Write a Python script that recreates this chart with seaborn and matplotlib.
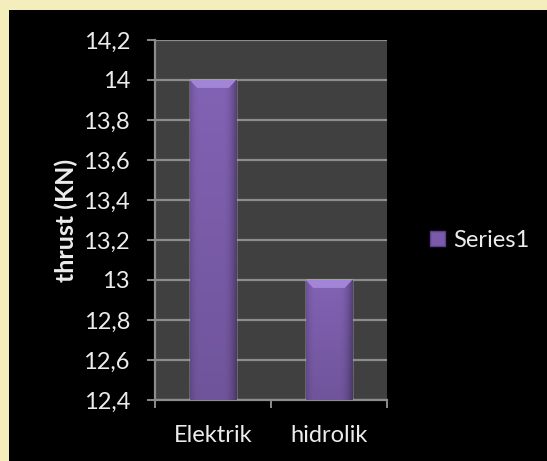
import matplotlib
matplotlib.use("Agg")
import matplotlib.pyplot as plt
import matplotlib.patches as mpatches
import matplotlib.colors as mcolors
from matplotlib.ticker import FuncFormatter, MultipleLocator, FixedLocator
import numpy as np
import seaborn as sns

categories = ["Elektrik", "hidrolik"]
values = [14.0, 13.0]
series_name = "Series1"
y_label = "thrust (KN)"
y_min, y_max, y_step = 12.4, 14.2, 0.2

sns.set_theme(style="dark")
plt.rcParams["font.family"] = ["Lato", "DejaVu Sans"]

W, H = 547, 461
fig = plt.figure(figsize=(W / 100, H / 100), dpi=100)
fig.patch.set_facecolor("#f3eebb")
fig.patches.append(mpatches.Rectangle((9 / W, 0), 1, (H - 10) / H,
                                      transform=fig.transFigure,
                                      facecolor="black", edgecolor="none", zorder=-10))

ax = fig.add_axes([155 / W, (H - 400) / H, (387 - 155) / W, (400 - 40) / H])
ax.set_zorder(1)
ax.set_facecolor("#404040")

bar_color = "#7a5aaa"
sns.barplot(x=categories, y=values, color=bar_color, width=0.40, ax=ax,
            saturation=1, zorder=3)

ax.set_ylim(y_min, y_max)
ax.yaxis.set_major_locator(MultipleLocator(y_step))
ax.yaxis.set_major_formatter(FuncFormatter(lambda v, p: f"{round(v, 1):g}".replace(".", ",")))

# gradient on bars
gx = np.linspace(0, 1, 128)
gy = np.linspace(0, 1, 128)  # 0 = top, 1 = bottom
shade_x = 1 - 0.35 * (np.clip(np.abs(gx - 0.45) * 2 - 0.5, 0, None) / 0.6) ** 2
shade_y = 1 - 0.14 * gy
base = np.array(mcolors.to_rgb("#8262b4"))
img = base[None, None, :] * shade_y[:, None, None] * shade_x[None, :, None]
img = np.clip(img, 0, 1)
for p in list(ax.patches):
    x0, y0 = p.get_x(), p.get_y()
    w, h = p.get_width(), p.get_height()
    if h <= 0:
        continue
    bottom = y_min
    top = y0 + h
    im = ax.imshow(img, extent=[x0, x0 + w, bottom, top], aspect="auto",
                   zorder=4, interpolation="bilinear", origin="upper")
    im.set_clip_path(p)
    bev_h = (y_max - y_min) * 0.022
    inset = w * 0.16
    bevel = mpatches.Polygon([[x0, top], [x0 + w, top], [x0 + w - inset, top - bev_h],
                              [x0 + inset, top - bev_h]], closed=True,
                             facecolor="#a385d8", edgecolor="none", zorder=5)
    ax.add_patch(bevel)
ax.set_xlim(-0.5, 1.5)
ax.set_ylim(y_min, y_max)

ax.yaxis.grid(True, color="#8c8c8c", linewidth=1.6, zorder=1)
ax.xaxis.grid(False)
ax.set_axisbelow(True)

for s in ["top", "right"]:
    ax.spines[s].set_visible(False)
for s in ["left", "bottom"]:
    ax.spines[s].set_visible(True)
    ax.spines[s].set_color("#8c8c8c")
    ax.spines[s].set_linewidth(1.6)

ax.tick_params(axis="y", which="major", left=True, length=6, width=1.4,
               color="#8c8c8c", labelcolor="#ececec", labelsize=17, pad=12)
ax.tick_params(axis="x", which="major", bottom=False, length=0,
               labelcolor="#ececec", labelsize=17, pad=18)
ax.xaxis.set_minor_locator(FixedLocator([-0.5, 0.5, 1.5]))
ax.tick_params(axis="x", which="minor", bottom=True, length=6, width=1.4,
               color="#8c8c8c")

ax.set_xlabel("")
ax.set_ylabel(y_label, color="#ececec", fontsize=18, fontweight="bold", labelpad=4)

handle = mpatches.Patch(facecolor="#7a5aaa", edgecolor="#5a3f8a", label=series_name)
leg = fig.legend(handles=[handle], loc="center left",
                 bbox_to_anchor=(430 / W, (H - 240) / H), frameon=False,
                 fontsize=17, labelcolor="#ececec", handlelength=0.62,
                 handleheight=0.62, handletextpad=0.35, borderpad=0, borderaxespad=0)

fig.savefig("out.png", dpi=100, facecolor=fig.get_facecolor())
